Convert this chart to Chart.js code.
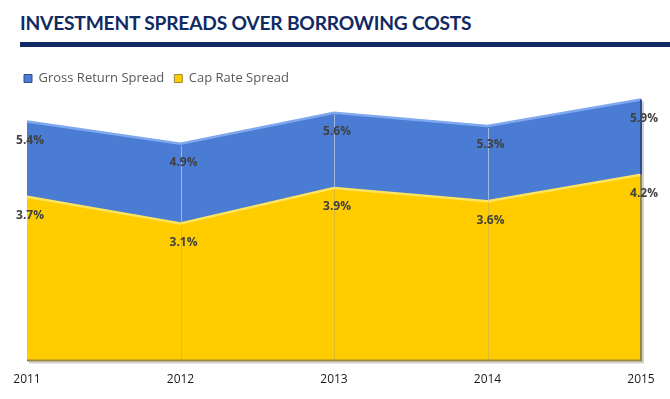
<!DOCTYPE html>
<html>
<head>
<meta charset="utf-8">
<script src="https://cdn.jsdelivr.net/npm/chart.js@4"></script>
<style>
  html, body { margin: 0; padding: 0; background: #ffffff; }
  #wrap { position: relative; width: 670px; height: 399px; overflow: hidden; }
  #title { position: absolute; left: 20px; top: 11px; font-family: Lato, sans-serif; font-weight: 700; font-size: 19.2px; color: #102a63; white-space: nowrap; letter-spacing: -0.2px; }
  #rule { position: absolute; left: 20px; top: 42px; width: 650px; height: 5px; background: #102a63; }
  #c { position: absolute; left: 0; top: 0; }
</style>
</head>
<body>
<div id="wrap">
  <div id="title">INVESTMENT SPREADS OVER BORROWING COSTS</div>
  <div id="rule"></div>
  <canvas id="c" width="670" height="399"></canvas>
</div>
<script>
const years = ['2011', '2012', '2013', '2014', '2015'];
const grossReturnSpread = [5.4, 4.9, 5.6, 5.3, 5.9];
const capRateSpread = [3.7, 3.1, 3.9, 3.6, 4.2];
const seriesNames = ['Gross Return Spread', 'Cap Rate Spread'];

const BLUE = '#4a7cd3';
const BLUE_EDGE = '#7fa8ee';
const YELLOW = '#ffcc00';
const YELLOW_EDGE = '#ffe45c';

const overlayPlugin = {
  id: 'overlay',
  afterDatasetsDraw(chart) {
    const ctx = chart.ctx;
    const xs = chart.scales.x, ys = chart.scales.y;
    const bottom = ys.getPixelForValue(0);
    ctx.save();
    ctx.lineWidth = 1;
    for (let i = 1; i < years.length - 1; i++) {
      const x = Math.round(xs.getPixelForValue(i)) + 0.5;
      ctx.strokeStyle = 'rgba(170,190,225,0.9)';
      ctx.beginPath();
      ctx.moveTo(x, ys.getPixelForValue(grossReturnSpread[i]) + 2);
      ctx.lineTo(x, ys.getPixelForValue(capRateSpread[i]));
      ctx.stroke();
      ctx.strokeStyle = 'rgba(215,180,60,0.8)';
      ctx.beginPath();
      ctx.moveTo(x, ys.getPixelForValue(capRateSpread[i]) + 2);
      ctx.lineTo(x, bottom);
      ctx.stroke();
    }
    const last = years.length - 1;
    const xr = xs.getPixelForValue(last);
    ctx.lineWidth = 2;
    ctx.strokeStyle = '#2e4f8f';
    ctx.beginPath();
    ctx.moveTo(xr, ys.getPixelForValue(grossReturnSpread[last]));
    ctx.lineTo(xr, ys.getPixelForValue(capRateSpread[last]));
    ctx.stroke();
    ctx.strokeStyle = '#9a873e';
    ctx.beginPath();
    ctx.moveTo(xr, ys.getPixelForValue(capRateSpread[last]));
    ctx.lineTo(xr, bottom);
    ctx.stroke();
    ctx.beginPath();
    ctx.moveTo(xs.getPixelForValue(0), bottom);
    ctx.lineTo(xr + 1, bottom);
    ctx.stroke();
    ctx.strokeStyle = 'rgba(120,120,120,0.35)';
    ctx.beginPath();
    ctx.moveTo(xs.getPixelForValue(0) + 2, bottom + 2);
    ctx.lineTo(xr + 2, bottom + 2);
    ctx.lineTo(xr + 2, ys.getPixelForValue(grossReturnSpread[last]) + 2);
    ctx.stroke();

    ctx.font = 'bold 12px "Open Sans", sans-serif';
    ctx.fillStyle = '#404040';
    ctx.textAlign = 'center';
    ctx.textBaseline = 'middle';
    chart.data.datasets.forEach((ds, di) => {
      const meta = chart.getDatasetMeta(di);
      meta.data.forEach((pt, i) => {
        ctx.fillText(ds.data[i].toFixed(1) + '%', pt.x + 3, pt.y + 19);
      });
    });
    ctx.restore();
  }
};

new Chart(document.getElementById('c'), {
  type: 'line',
  data: {
    labels: years,
    datasets: [
      {
        label: seriesNames[0],
        data: grossReturnSpread,
        backgroundColor: BLUE,
        borderColor: BLUE_EDGE,
        borderWidth: 2.5,
        fill: 1,
        pointRadius: 0,
        tension: 0
      },
      {
        label: seriesNames[1],
        data: capRateSpread,
        backgroundColor: YELLOW,
        borderColor: YELLOW_EDGE,
        borderWidth: 2.5,
        fill: 'origin',
        pointRadius: 0,
        tension: 0
      }
    ]
  },
  options: {
    responsive: false,
    animation: false,
    layout: { padding: { top: 62, left: 14, right: 29, bottom: 0 } },
    plugins: {
      filler: { drawTime: 'beforeDatasetsDraw' },
      tooltip: { enabled: false },
      legend: {
        display: true,
        align: 'start',
        labels: {
          boxWidth: 8,
          boxHeight: 8,
          padding: 10,
          color: '#595959',
          font: { family: '"Open Sans", sans-serif', size: 13 },
          generateLabels(chart) {
            return chart.data.datasets.map((ds, i) => ({
              text: ds.label,
              fillStyle: ds.backgroundColor,
              strokeStyle: i === 0 ? '#2e4f8f' : '#9a873e',
              lineWidth: 1,
              fontColor: '#595959',
              datasetIndex: i,
              hidden: false
            }));
          }
        }
      }
    },
    scales: {
      x: {
        offset: false,
        grid: { display: false, drawTicks: false },
        border: { display: false },
        ticks: {
          padding: 12,
          color: '#1a1a1a',
          maxRotation: 0,
          autoSkip: false,
          font: { family: '"Open Sans", sans-serif', size: 12 }
        },
        afterFit(scale) { scale.paddingLeft = 0; scale.paddingRight = 0; }
      },
      y: {
        display: true,
        min: 0,
        max: 6,
        grid: { display: false, drawTicks: false },
        border: { display: false },
        ticks: { display: false },
        afterFit(scale) { scale.width = 13; }
      }
    }
  },
  plugins: [overlayPlugin]
});
</script>
</body>
</html>
